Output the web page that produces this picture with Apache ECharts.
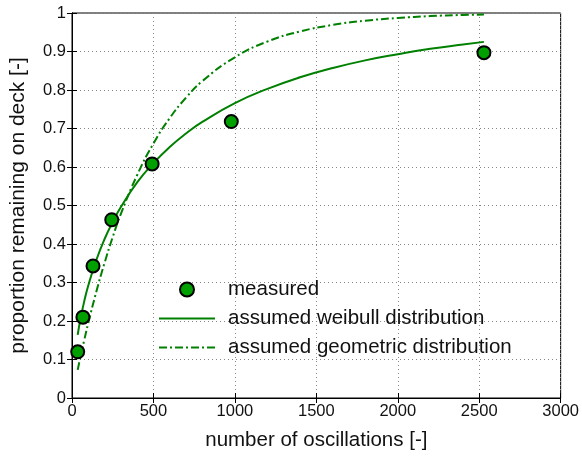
<!DOCTYPE html>
<html>
<head>
<meta charset="utf-8">
<title>proportion remaining</title>
<script src="https://cdn.jsdelivr.net/npm/echarts@6/dist/echarts.min.js"></script>
<style>
  html, body { margin: 0; padding: 0; background: #fff; }
  #main { width: 582px; height: 458px; }
</style>
</head>
<body>
<div id="main"></div>
<script>
// measured points
var measuredX = [35, 67, 129, 244, 492, 978, 2529];
var measuredY = [0.12, 0.21, 0.343, 0.463, 0.608, 0.718, 0.897];

// fitted curves, values
var curveX = [35, 50, 75, 100, 150, 200, 250, 300, 400, 500, 600, 700, 800, 1000, 1200, 1400, 1600, 1800, 2000, 2200, 2400, 2529];
var weibullY = [0.164, 0.201, 0.251, 0.292, 0.359, 0.413, 0.457, 0.496, 0.560, 0.610, 0.652, 0.687, 0.717, 0.766, 0.803, 0.833, 0.857, 0.877, 0.893, 0.907, 0.918, 0.925];
var geometricY = [0.073, 0.103, 0.150, 0.195, 0.277, 0.351, 0.418, 0.478, 0.579, 0.661, 0.727, 0.780, 0.823, 0.885, 0.926, 0.952, 0.969, 0.980, 0.987, 0.992, 0.995, 0.996];

var names = ['measured', 'assumed weibull distribution', 'assumed geometric distribution'];

function pairs(xs, ys) {
  var out = [];
  for (var i = 0; i < xs.length; i++) out.push([xs[i], ys[i]]);
  return out;
}

var chart = echarts.init(document.getElementById('main'));
var font = 'Liberation Sans, Arial, sans-serif';
var gridLine = { show: true, lineStyle: { color: '#888', type: [1, 3], width: 1 } };
var tick = { show: true, inside: true, length: 5, lineStyle: { color: '#000' } };

var option = {
  animation: false,
  textStyle: { fontFamily: font },
  grid: { left: 71, right: 21, top: 13, bottom: 60, show: true, borderColor: '#000', borderWidth: 1 },
  legend: {
    orient: 'vertical',
    left: 153,
    top: 274,
    itemWidth: 56,
    itemHeight: 14,
    itemGap: 8,
    textStyle: { fontSize: 20.5, color: '#111', fontFamily: font, padding: [0, 0, 0, 8] },
    data: [
      { name: names[0] },
      { name: names[1], itemStyle: { opacity: 0 } },
      { name: names[2], itemStyle: { opacity: 0 } }
    ]
  },
  xAxis: [{
    type: 'value', min: 0, max: 3000, interval: 500,
    name: 'number of oscillations [-]', nameLocation: 'middle', nameGap: 32,
    nameTextStyle: { fontSize: 20.5, color: '#111' },
    axisLine: { lineStyle: { color: '#000' } },
    axisTick: tick,
    axisLabel: { fontSize: 16.5, color: '#111', margin: 5, formatter: function (v) { return String(v); } },
    splitLine: gridLine
  }, {
    type: 'value', min: 0, max: 3000, interval: 500, position: 'top',
    axisLine: { lineStyle: { color: '#000' } },
    axisTick: tick,
    axisLabel: { show: false }, splitLine: { show: false }
  }],
  yAxis: [{
    type: 'value', min: 0, max: 1, interval: 0.1,
    name: 'proportion remaining on deck [-]', nameLocation: 'middle', nameGap: 43,
    nameTextStyle: { fontSize: 21, color: '#111' },
    axisLine: { show: true, lineStyle: { color: '#000' } },
    axisTick: tick,
    axisLabel: { fontSize: 16.5, color: '#111', margin: 6 },
    splitLine: gridLine
  }, {
    type: 'value', min: 0, max: 1, interval: 0.1, position: 'right',
    axisLine: { show: true, lineStyle: { color: '#000' } },
    axisTick: tick,
    axisLabel: { show: false }, splitLine: { show: false }
  }],
  series: [{
    name: names[0],
    type: 'scatter',
    symbol: 'circle',
    symbolSize: 13,
    itemStyle: { color: '#00a000', opacity: 1, borderColor: '#000', borderWidth: 2 },
    data: pairs(measuredX, measuredY),
    z: 5
  }, {
    name: names[1],
    type: 'line',
    smooth: true,
    showSymbol: false,
    symbol: 'none',
    itemStyle: { color: '#008000' },
    lineStyle: { color: '#008000', width: 2 },
    data: pairs(curveX, weibullY)
  }, {
    name: names[2],
    type: 'line',
    smooth: true,
    showSymbol: false,
    symbol: 'none',
    itemStyle: { color: '#008000' },
    lineStyle: { color: '#008000', width: 2, type: [8, 3, 2, 3] },
    data: pairs(curveX, geometricY)
  }]
};
chart.setOption(option);
</script>
</body>
</html>
